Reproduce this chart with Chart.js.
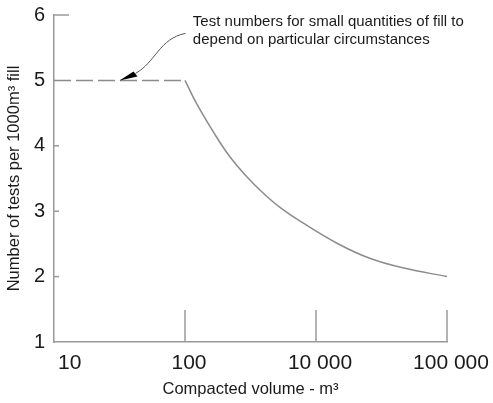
<!DOCTYPE html>
<html>
<head>
<meta charset="utf-8">
<script src="https://cdn.jsdelivr.net/npm/chart.js@4.4.1/dist/chart.umd.min.js"></script>
<style>
  html, body { margin: 0; padding: 0; background: #fff; }
  #wrap { position: relative; width: 493px; height: 403px; }
</style>
</head>
<body>
<div id="wrap"><canvas id="chart" width="493" height="403"></canvas></div>
<script>
// data (x is the position of each labelled tick)
const xTickPos = [0, 1, 2, 3];
const xTickLabels = ['10', '100', '10 000', '100 000'];
const yTickValues = [1, 2, 3, 4, 5, 6];

const flatX = [0, 1];
const flatY = [5, 5];

const curveX = [1, 1.09, 1.22, 1.34, 1.47, 1.6, 1.73, 1.9, 2.16, 2.41, 2.67, 3];
const curveY = [5, 4.64, 4.2, 3.84, 3.53, 3.27, 3.05, 2.82, 2.51, 2.28, 2.13, 2.0];

const noteLines = ['Test numbers for small quantities of fill to', 'depend on particular circumstances'];
const noteTip = { x: 0.5, y: 5 };
const noteText = { x: 1.06, y: 5.9 };

const FONT = '"Liberation Sans", Arial, sans-serif';
const AXIS = '#9a9a9a';
const LINE = '#8c8c8c';
const TEXT = '#1a1a1a';

const toPoints = (xs, ys) => xs.map((x, i) => ({ x: x, y: ys[i] }));

const extras = {
  id: 'extras',
  afterDraw(chart) {
    const ctx = chart.ctx;
    const xs = chart.scales.x;
    const ys = chart.scales.y;
    const left = chart.chartArea.left;
    const bottom = chart.chartArea.bottom;

    ctx.save();
    ctx.strokeStyle = AXIS;
    ctx.lineWidth = 1.5;

    // short ticks pointing into the plot
    yTickValues.forEach(v => {
      if (v === 1 || v === 5) return;
      const len = v === 6 ? 15 : 5;
      const py = ys.getPixelForValue(v);
      ctx.beginPath();
      ctx.moveTo(left, py);
      ctx.lineTo(left + len, py);
      ctx.stroke();
    });
    xTickPos.forEach(v => {
      if (v === 0) return;
      const px = xs.getPixelForValue(v);
      ctx.beginPath();
      ctx.moveTo(px, bottom);
      ctx.lineTo(px, bottom - 32);
      ctx.stroke();
    });

    // x tick labels
    ctx.fillStyle = TEXT;
    ctx.font = '21px ' + FONT;
    ctx.textBaseline = 'middle';
    xTickPos.forEach((v, i) => {
      const px = xs.getPixelForValue(v);
      if (i === 0) {
        ctx.textAlign = 'left';
        ctx.fillText(xTickLabels[i], px + 4, bottom + 21);
      } else {
        ctx.textAlign = 'center';
        ctx.fillText(xTickLabels[i], px + 4, bottom + 21);
      }
    });

    // note text
    ctx.font = '15px ' + FONT;
    ctx.textAlign = 'left';
    const tx = xs.getPixelForValue(noteText.x);
    const ty = ys.getPixelForValue(noteText.y);
    noteLines.forEach((t, i) => ctx.fillText(t, tx, ty + i * 18));

    // leader line with arrow head
    const ax = xs.getPixelForValue(noteTip.x);
    const ay = ys.getPixelForValue(noteTip.y);
    ctx.strokeStyle = '#555';
    ctx.lineWidth = 1;
    ctx.beginPath();
    ctx.moveTo(ax + 16, ay - 7);
    ctx.bezierCurveTo(ax + 36, ay - 18, ax + 40, ay - 42, ax + 66, ay - 47);
    ctx.stroke();
    ctx.fillStyle = '#000';
    ctx.beginPath();
    ctx.moveTo(ax, ay);
    ctx.lineTo(ax + 14, ay - 9);
    ctx.lineTo(ax + 18, ay - 4);
    ctx.closePath();
    ctx.fill();
    ctx.restore();
  }
};

new Chart(document.getElementById('chart'), {
  type: 'scatter',
  data: {
    datasets: [
      {
        data: toPoints(flatX, flatY),
        showLine: true,
        borderColor: LINE,
        borderWidth: 1.5,
        borderDash: [17, 5],
        pointRadius: 0
      },
      {
        data: toPoints(curveX, curveY),
        showLine: true,
        borderColor: LINE,
        borderWidth: 1.5,
        tension: 0.4,
        pointRadius: 0
      }
    ]
  },
  options: {
    responsive: false,
    animation: false,
    layout: { padding: { top: 15, right: 46, left: 0, bottom: 0 } },
    plugins: {
      legend: { display: false },
      tooltip: { enabled: false }
    },
    scales: {
      x: {
        type: 'linear',
        min: 0,
        max: 3,
        grid: { display: false, drawTicks: false },
        border: { color: AXIS, width: 1.5 },
        ticks: { display: false },
        title: {
          display: true,
          text: 'Compacted volume - m³',
          color: TEXT,
          font: { family: FONT, size: 16.5 },
          padding: { top: 0, bottom: 4 }
        },
        afterFit: s => { s.height = 61; }
      },
      y: {
        min: 1,
        max: 6,
        grid: { display: false, drawTicks: false },
        border: { color: AXIS, width: 1.5 },
        ticks: {
          stepSize: 1,
          color: TEXT,
          padding: 9,
          font: { family: FONT, size: 20 }
        },
        title: {
          display: true,
          text: 'Number of tests per 1000m³ fill',
          color: TEXT,
          font: { family: FONT, size: 16.5 },
          padding: { top: 5, bottom: 0 }
        },
        afterFit: s => {
          s.width = 54;
          s.paddingTop = 0;
          s.paddingBottom = 0;
        }
      }
    }
  },
  plugins: [extras]
});
</script>
</body>
</html>
